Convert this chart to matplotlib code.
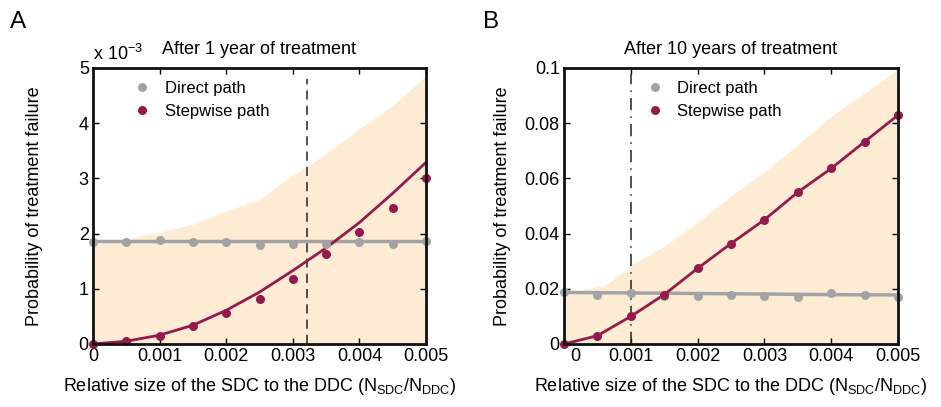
import matplotlib
matplotlib.use("Agg")
import matplotlib.pyplot as plt
import matplotlib.transforms as mtransforms
import numpy as np

plt.rcParams['font.family'] = ['Liberation Sans', 'DejaVu Sans']
plt.rcParams['mathtext.fontset'] = 'custom'
plt.rcParams['mathtext.rm'] = 'Liberation Sans'

# ---------------- data ----------------
x_vals = [0, 0.0005, 0.001, 0.0015, 0.002, 0.0025, 0.003, 0.0035, 0.004, 0.0045, 0.005]

# Panel A (values in units of 1e-3)
a_direct_pts = [1.85, 1.85, 1.88, 1.84, 1.84, 1.79, 1.82, 1.81, 1.85, 1.82, 1.87]
a_direct_line = [1.87, 1.87, 1.87, 1.87, 1.87, 1.87, 1.87, 1.87, 1.87, 1.87, 1.87]
a_step_pts = [0.0, 0.05, 0.15, 0.32, 0.57, 0.82, 1.18, 1.63, 2.03, 2.47, 3.01]
a_step_line = [0.0, 0.05, 0.16, 0.34, 0.61, 0.94, 1.33, 1.74, 2.20, 2.73, 3.29]
a_band_x = [0, 0.0002, 0.0005, 0.0007, 0.001, 0.0015, 0.002, 0.0025, 0.003, 0.00322, 0.0035, 0.004, 0.0045, 0.005]
a_band_hi = [1.81, 1.84, 1.86, 1.96, 2.02, 2.17, 2.41, 2.62, 3.06, 3.22, 3.45, 3.90, 4.32, 4.86]
a_vline = 0.00322

# Panel B
b_direct_pts = [0.0187, 0.0178, 0.0185, 0.0175, 0.0174, 0.0179, 0.0174, 0.0172, 0.0184, 0.0176, 0.0172]
b_direct_line = [0.0187, 0.0186, 0.0185, 0.0184, 0.0183, 0.0182, 0.0181, 0.0180, 0.0179, 0.0178, 0.0178]
b_step_pts = [0.0, 0.0030, 0.0100, 0.0179, 0.0274, 0.0364, 0.0450, 0.0550, 0.0636, 0.0733, 0.0829]
b_band_x = [0, 0.00025, 0.0005, 0.0006, 0.00075, 0.00087, 0.00097, 0.001, 0.0015, 0.002, 0.0025, 0.003, 0.0035, 0.004, 0.0045, 0.005]
b_band_hi = [0.0185, 0.0193, 0.0209, 0.0209, 0.0237, 0.0260, 0.0258, 0.0287, 0.0354, 0.0441, 0.0537, 0.0624, 0.0722, 0.0825, 0.0910, 0.0996]
b_vline = 0.001

x_ticks = [0, 0.001, 0.002, 0.003, 0.004, 0.005]
x_ticklabels = ['0', '0.001', '0.002', '0.003', '0.004', '0.005']
a_yticks = [0, 1, 2, 3, 4, 5]
b_yticks = [0, 0.02, 0.04, 0.06, 0.08, 0.1]
b_yticklabels = ['0', '0.02', '0.04', '0.06', '0.08', '0.1']

RED = '#951a4b'
GRAY = '#a3a3a5'
FILL = '#fdecd3'
FS = 13

fig = plt.figure(figsize=(9.41, 4.07), dpi=100)
axA = fig.add_axes([93/941, 1-344/407, 333/941, 276/407])
axB = fig.add_axes([564/941, 1-344/407, 334/941, 276/407])

def style(ax, ylab_x):
    for s in ax.spines.values():
        s.set_linewidth(2.0)
        s.set_color('#111111')
        s.set_zorder(10)
    ax.tick_params(direction='in', length=4, width=1.0, top=True, right=True,
                   labelsize=FS, pad=3)
    ax.set_xlim(0, 0.005)
    ax.set_xticks(x_ticks)
    ax.set_xticklabels(x_ticklabels)
    ax.set_xlabel('Relative size of the SDC to the DDC (N$_{\\mathregular{SDC}}$/N$_{\\mathregular{DDC}}$)',
                  fontsize=FS, labelpad=8)
    ax.set_ylabel('Probability of treatment failure', fontsize=FS)
    ax.yaxis.set_label_coords(ylab_x, 0.5)

# Panel A
axA.fill_between(a_band_x, 0, a_band_hi, color=FILL, lw=0, zorder=1)
axA.axvline(a_vline, ymin=0, ymax=0.96, color='#222222', lw=1.1, ls=(0, (6, 4)), zorder=2)
axA.plot(x_vals, a_direct_line, color=GRAY, lw=2.5, zorder=3)
axA.plot(x_vals, a_step_line, color=RED, lw=2.0, zorder=3)
axA.plot(x_vals, a_direct_pts, 'o', color=GRAY, ms=6.5, mec='none', zorder=4, clip_on=False)
axA.plot(x_vals, a_step_pts, 'o', color=RED, ms=6.5, mec='none', zorder=4, clip_on=False)
axA.set_ylim(0, 5)
axA.set_yticks(a_yticks)
axA.set_yticklabels([str(v) for v in a_yticks])
style(axA, -0.15)
axA.set_title('After 1 year of treatment', fontsize=FS, pad=10)
axA.text(0.0, 1.015, 'x 10$^{-3}$', transform=axA.transAxes, fontsize=FS, ha='left', va='bottom')

# Panel B
axB.fill_between(b_band_x, 0, b_band_hi, color=FILL, lw=0, zorder=1)
axB.axvline(b_vline, ymin=0, ymax=0.98, color='#222222', lw=1.1, ls=(0, (8, 4, 1, 4)), zorder=2)
axB.plot(x_vals, b_direct_line, color=GRAY, lw=2.5, zorder=3)
axB.plot(x_vals, b_step_pts, color=RED, lw=2.0, zorder=3)
axB.plot(x_vals, b_direct_pts, 'o', color=GRAY, ms=6.5, mec='none', zorder=4, clip_on=False)
axB.plot(x_vals, b_step_pts, 'o', color=RED, ms=6.5, mec='none', zorder=4, clip_on=False)
axB.set_ylim(0, 0.1)
axB.set_yticks(b_yticks)
axB.set_yticklabels(b_yticklabels)
style(axB, -0.159)
axB.set_title('After 10 years of treatment', fontsize=FS, pad=10)

# shift the "0" label in panel B as in the reference
lbl0 = axB.get_xticklabels()[0]
lbl0.set_transform(lbl0.get_transform() + mtransforms.ScaledTranslation(11/100, 0, fig.dpi_scale_trans))

# legends
for ax, lx in ((axA, 0.07), (axB, 0.195)):
    h1, = ax.plot([], [], 'o', color=GRAY, ms=6.5, mec='none')
    h2, = ax.plot([], [], 'o', color=RED, ms=6.5, mec='none')
    ax.legend([h1, h2], ['Direct path', 'Stepwise path'], loc='upper left',
              bbox_to_anchor=(lx, 1.0), frameon=False, fontsize=12,
              handletextpad=0.6, labelspacing=0.45, handlelength=1.5, borderaxespad=0.4)

fig.text(10/941, 1-28/407, 'A', fontsize=17.5, ha='left', va='baseline')
fig.text(483/941, 1-28/407, 'B', fontsize=17.5, ha='left', va='baseline')

fig.savefig('out.png', dpi=100)
